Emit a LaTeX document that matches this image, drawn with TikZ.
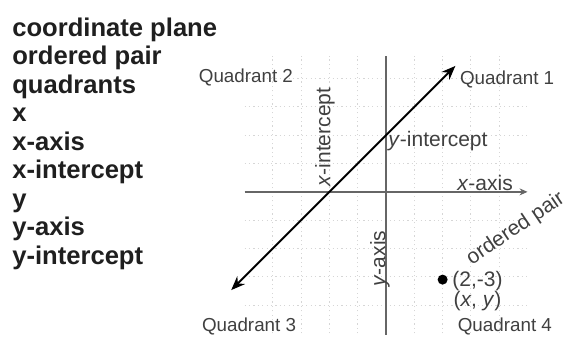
\documentclass[tikz,border=0pt]{standalone}
\usepackage{fontspec}
\setmainfont{Liberation Sans}
\usetikzlibrary{arrows.meta,positioning}

\begin{document}
\begin{tikzpicture}[x=14.15pt, y=14.15pt,
    term/.style={anchor=base west, inner sep=0pt, font=\fontsize{12.8}{14}\selectfont\bfseries, text=black!88},
    lbl/.style={inner sep=0pt, font=\fontsize{10.5}{12}\selectfont, text=black!75},
    quad/.style={inner sep=0pt, font=\fontsize{9.4}{11}\selectfont, text=black!75},
    gridline/.style={draw=black!16, dash pattern=on 0.6pt off 1.6pt, line width=0.5pt},
    axis/.style={draw=black!60, line width=0.9pt}]
\useasboundingbox (-13.64,-5.16) rectangle (6.43,6.78);
% word list
\foreach \w [count=\i] in {coordinate plane, ordered pair, quadrants, x, x-axis, x-intercept, y, y-axis, y-intercept}
    \node[term] (w\i) at ({-13.22},{6.5-1.007*\i}) {\w};
% grid
\foreach \k in {-4,...,-1,1,2,3,4} {
    \draw[gridline] (-5,\k) -- (5,\k);
    \draw[gridline] (\k,-5) -- (\k,4.8);
}
% axes
\coordinate (xl) at (-5,0); \coordinate (xr) at (5,0);
\coordinate (yt) at (0,4.8); \coordinate (yb) at (0,-5.05);
\draw[axis, -{Stealth[length=4pt,width=3.5pt]}] (xl) -- (xr);
\draw[axis] (yt) -- (yb);
% the line y = x + 2
\coordinate (lo) at (-5.47,-3.47); \coordinate (hi) at (2.45,4.45);
\draw[line width=1pt, {Stealth[length=7pt,width=5.5pt]}-{Stealth[length=7pt,width=5.5pt]}] (lo) -- (hi);
% labels
\node[quad] (q2) at (-4.95,4.03) {Quadrant 2};
\node[quad] (q1) at (4.28,3.96) {Quadrant 1};
\node[quad] (q3) at (-4.84,-4.77) {Quadrant 3};
\node[quad] (q4) at (4.2,-4.77) {Quadrant 4};
\node[lbl, anchor=west] (yint) at (0.07,1.78) {\textit{y}-intercept};
\node[lbl] (xaxis) at (3.5,0.3) {\textit{x}-axis};
\node[lbl, rotate=90, anchor=base west] (xint) at (-1.97,0.18) {\textit{x}-intercept};
\node[lbl, rotate=90, anchor=base west] (yaxis) at (-0.02,-3.36) {\textit{y}-axis};
\node[lbl, rotate=34, anchor=base west] (opair) at (3.02,-2.6) {ordered pair};
\node[circle, fill=black, inner sep=0pt, minimum size=5pt] (pt) at (2,-3.1) {};
\node[lbl, anchor=west] (pair) at (2.33,-3.14) {(2,-3)};
\node[lbl, below=0pt of pair] (xy) {(\textit{x}, \textit{y})};
\end{tikzpicture}
\end{document}
